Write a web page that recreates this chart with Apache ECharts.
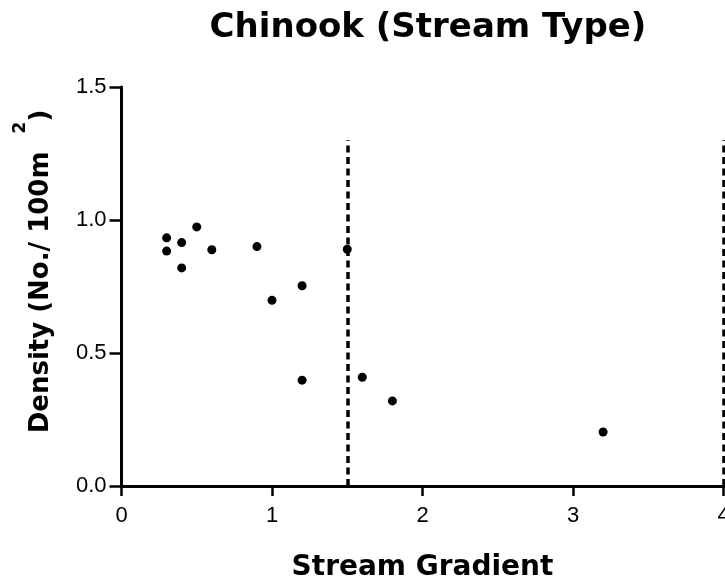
<!DOCTYPE html>
<html>
<head>
<meta charset="utf-8">
<script src="https://cdn.jsdelivr.net/npm/echarts@6/dist/echarts.min.js"></script>
<style>html,body{margin:0;padding:0;background:#fff;}#c{width:725px;height:583px;}</style>
</head>
<body>
<div id="c"></div>
<script>
const gradient = [0.3, 0.3, 0.4, 0.4, 0.5, 0.6, 0.9, 1.0, 1.2, 1.2, 1.5, 1.6, 1.8, 3.2];
const density  = [0.933, 0.883, 0.915, 0.82, 0.974, 0.888, 0.90, 0.698, 0.753, 0.398, 0.89, 0.409, 0.32, 0.203];
const refLinesX = [1.5, 4];
const refLineTop = 1.3;
const xTicks = [0, 1, 2, 3, 4];
const yTicks = [0, 0.5, 1.0, 1.5];

const font = '"Liberation Sans", Arial, sans-serif';
const boldFont = '"DejaVu Sans", sans-serif';
const chart = echarts.init(document.getElementById('c'), null, {renderer: 'canvas'});
chart.setOption({
  animation: false,
  backgroundColor: '#fff',
  title: {
    text: 'Chinook (Stream Type)',
    left: 423, top: 6, textAlign: 'center',
    textStyle: {fontFamily: boldFont, fontWeight: 'bold', fontSize: 34, color: '#000'}
  },
  grid: {left: 121.5, right: 1.5, top: 87, bottom: 97, containLabel: false, outerBoundsMode: 'none'},
  xAxis: {
    type: 'value', min: xTicks[0], max: xTicks[xTicks.length - 1], interval: 1,
    name: 'Stream Gradient', nameLocation: 'middle', nameGap: 68,
    nameTextStyle: {fontFamily: boldFont, fontWeight: 'bold', fontSize: 28, color: '#000'},
    axisLine: {lineStyle: {color: '#000', width: 3}},
    axisTick: {length: 10, lineStyle: {color: '#000', width: 2.5}},
    axisLabel: {fontFamily: font, fontSize: 22, color: '#000', margin: 19},
    splitLine: {show: false}
  },
  yAxis: {
    type: 'value', min: yTicks[0], max: yTicks[yTicks.length - 1], interval: 0.5,
    name: '{a|Density (No./ 100m  }{s|2}{a|)}', nameLocation: 'middle', nameGap: 67, nameRotate: 90,
    nameTextStyle: {
      padding: [0, 0, 0, 30],
      rich: {
        a: {fontFamily: boldFont, fontWeight: 'bold', fontSize: 26, color: '#000', lineHeight: 42, verticalAlign: 'bottom'},
        s: {fontFamily: boldFont, fontWeight: 'bold', fontSize: 17, color: '#000', lineHeight: 17, verticalAlign: 'top'}
      }
    },
    axisLine: {show: true, lineStyle: {color: '#000', width: 3}},
    axisTick: {show: true, length: 12, lineStyle: {color: '#000', width: 2.5}},
    axisLabel: {fontFamily: font, fontSize: 22, color: '#000', margin: 15,
      formatter: v => v.toFixed(1)},
    splitLine: {show: false}
  },
  series: [{
    type: 'scatter',
    data: gradient.map((g, i) => [g, density[i]]),
    symbol: 'circle', symbolSize: 9,
    itemStyle: {color: '#000', opacity: 1},
    z: 3,
    markLine: {
      silent: true, symbol: 'none', animation: false,
      label: {show: false},
      lineStyle: {color: '#000', width: 3.5, type: [7, 4.5], opacity: 1},
      data: refLinesX.map(x => [{coord: [x, 0]}, {coord: [x, refLineTop]}])
    }
  }]
});
</script>
</body>
</html>
